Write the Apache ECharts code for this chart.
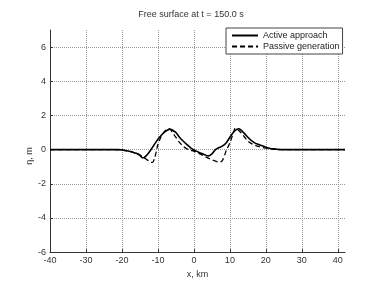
<!DOCTYPE html>
<html><head><meta charset="utf-8">
<script src="https://cdn.jsdelivr.net/npm/echarts@6/dist/echarts.min.js"></script>
<style>html,body{margin:0;padding:0;background:#fff}#c{width:382px;height:284px}</style>
</head><body><div id="c"></div>
<script>
var activeX = [-40,-30,-22,-21,-20,-19,-18,-17,-16,-15,-14.5,-14,-13,-12,-11,-10,-9,-8,-7,-6.5,-6,-5,-4,-3,-2,-1,0,1,2,3,4,5,6,7,8,9,10,11,12,12.5,13,14,15,16,17,18,19,20,21,22,23,24,30,42];
var activeY = [0,0,0,0,-0.02,-0.05,-0.1,-0.15,-0.22,-0.33,-0.45,-0.48,-0.3,-0.02,0.3,0.6,0.85,1.05,1.17,1.19,1.15,1.0,0.72,0.5,0.3,0.12,-0.02,-0.12,-0.22,-0.3,-0.37,-0.25,0.0,0.12,0.22,0.4,0.72,1.02,1.2,1.22,1.15,0.95,0.72,0.52,0.38,0.3,0.22,0.14,0.08,0.04,0.02,0,0,0];
var passiveX = [-40,-30,-21,-20,-18,-16,-15,-14,-13,-12,-11.5,-11,-10.5,-10,-9,-8,-7,-6.5,-6,-5,-4,-3,-2,-1,0,1,2,3,4,5,6,7,7.5,8,8.5,9,10,11,11.5,12,13,14,15,16,17,18,19,20,21,22,24,26,42];
var passiveY = [0,0,-0.01,-0.03,-0.1,-0.22,-0.33,-0.45,-0.6,-0.74,-0.75,-0.55,-0.15,0.3,0.8,1.1,1.22,1.18,1.0,0.72,0.42,0.2,0.05,-0.03,-0.1,-0.18,-0.28,-0.4,-0.5,-0.6,-0.68,-0.73,-0.72,-0.6,-0.35,-0.05,0.4,1.0,1.25,1.2,1.0,0.75,0.5,0.35,0.25,0.18,0.12,0.08,0.05,0.03,0.01,0,0];
var xTicks = [-40,-30,-20,-10,0,10,20,30,40];
var yTicks = [-6,-4,-2,0,2,4,6];
var seriesNames = ['Active approach','Passive generation'];

function pairs(xs, ys){ return xs.map(function(x,i){ return [x, ys[i]]; }); }
var font = 'Liberation Sans, Arial, sans-serif';
var chart = echarts.init(document.getElementById('c'), null, {renderer:'canvas'});
chart.setOption({
  animation:false,
  backgroundColor:'#fff',
  title:{text:'Free surface at t = 150.0 s', left:'center', top:5,
    textStyle:{fontFamily:font,fontSize:9,fontWeight:'normal',color:'#333'}},
  legend:{orient:'vertical', left:226, top:28,
    backgroundColor:'#fff', borderColor:'#444', borderWidth:1, padding:[3,3,3,5],
    itemWidth:26, itemHeight:8, itemGap:2,
    itemStyle:{color:'rgba(0,0,0,0)', borderColor:'rgba(0,0,0,0)', borderWidth:0},
    textStyle:{fontFamily:font,fontSize:9,color:'#222'},
    data:[{name:seriesNames[0]},{name:seriesNames[1]}]},
  grid:{left:50, right:37, top:30, bottom:31},
  xAxis:{type:'value', min:-40, max:42, interval:10,
    name:'x, km', nameLocation:'middle', nameGap:16,
    nameTextStyle:{fontFamily:font,fontSize:9,color:'#333'},
    axisLine:{onZero:false,lineStyle:{color:'#333',width:1}},
    axisTick:{inside:true,length:3,lineStyle:{color:'#333'}},
    axisLabel:{fontFamily:font,fontSize:9,color:'#333',margin:4,showMaxLabel:false,
      formatter:function(v){return xTicks.indexOf(v)>=0? String(v):'';}},
    splitLine:{show:true,showMinLine:false,showMaxLine:false,lineStyle:{type:'dotted',color:'#999',width:1}}},
  yAxis:{type:'value', min:-6, max:7, interval:2,
    name:'η, m', nameLocation:'middle', nameGap:16, nameRotate:90, nameMoveOverlap:false,
    nameTextStyle:{fontFamily:font,fontSize:9,color:'#333',padding:[0,30,0,0]},
    axisLine:{show:true,onZero:false,lineStyle:{color:'#333',width:1}},
    axisTick:{show:true,inside:true,length:3,lineStyle:{color:'#333'}},
    axisLabel:{fontFamily:font,fontSize:9,color:'#333',margin:4,showMaxLabel:false,
      formatter:function(v){return yTicks.indexOf(v)>=0? String(v):'';}},
    splitLine:{show:true,showMinLine:false,showMaxLine:false,lineStyle:{type:'dotted',color:'#999',width:1}}},
  series:[
    {name:seriesNames[0], type:'line', data:pairs(activeX,activeY), symbol:'none', smooth:0.3,
      lineStyle:{color:'#000',width:1.6,type:'solid'}, itemStyle:{color:'#000'}},
    {name:seriesNames[1], type:'line', data:pairs(passiveX,passiveY), symbol:'none', smooth:0.3,
      lineStyle:{color:'#000',width:1.3,type:[5,3]}, itemStyle:{color:'#000'}}
  ]
});
</script></body></html>
